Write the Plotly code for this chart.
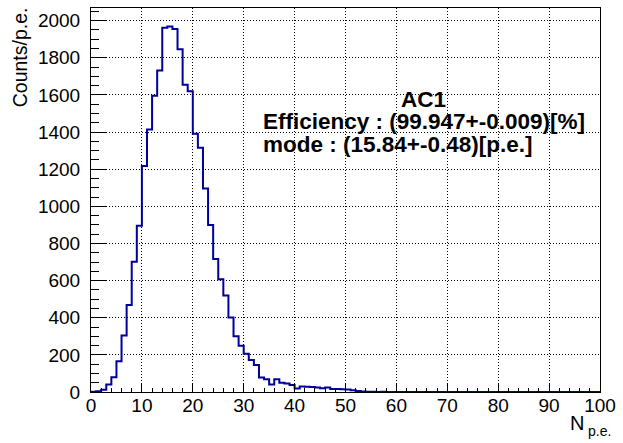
import plotly.graph_objects as go

# Histogram data: 100 bins of width 1 p.e. from 0 to 100
bin_edges = list(range(0, 101))
counts = [
    2, 4, 12, 41, 80, 166, 304, 469, 702, 895,
    1217, 1413, 1595, 1731, 1961, 1969, 1955, 1846, 1655, 1619,
    1391, 1316, 1096, 900, 716, 607, 520, 401, 300, 249,
    206, 173, 145, 78, 68, 41, 68, 50, 46, 38,
    19, 30, 28, 27, 24, 20, 24, 16, 16, 15,
    14, 10, 6, 3, 1, 1, 0, 1, 0, 0,
    0, 0, 0, 0, 0, 0, 0, 0, 0, 0,
    0, 0, 0, 0, 0, 0, 0, 0, 0, 0,
    0, 0, 0, 0, 0, 0, 0, 0, 0, 0,
    0, 0, 0, 0, 0, 0, 0, 0, 0, 0,
]
x_ticks = [0, 10, 20, 30, 40, 50, 60, 70, 80, 90, 100]
y_ticks = [0, 200, 400, 600, 800, 1000, 1200, 1400, 1600, 1800, 2000]

W, H = 623, 443
L, R, T, B = 91, 21, 7, 51
PW, PH = W - L - R, H - T - B

def px(xp):
    return (xp - L) / PW

def py(yp):
    return (H - B - yp) / PH

FONT = "Liberation Sans, Arial, Helvetica, sans-serif"

fig = go.Figure()
fig.add_trace(go.Scatter(
    x=bin_edges,
    y=counts + [counts[-1]],
    mode="lines",
    line=dict(shape="hv", color="#000099", width=2),
    hoverinfo="skip",
    showlegend=False,
))

axis_common = dict(
    showline=True, linecolor="black", linewidth=1, mirror=True,
    ticks="inside", tickcolor="black", tickwidth=1,
    showgrid=True, gridcolor="#000000", gridwidth=1, griddash="1px 2px",
    zeroline=False,
    tickfont=dict(family=FONT, size=19, color="black"),
)

fig.update_layout(
    width=W, height=H,
    margin=dict(l=L, r=R, t=T, b=B, pad=0),
    paper_bgcolor="white", plot_bgcolor="white",
    xaxis=dict(
        range=[0, 100], tickvals=x_ticks, ticklen=8,
        minor=dict(dtick=2, ticklen=4, ticks="inside", tickcolor="black", showgrid=False),
        ticklabelstandoff=-4,
        **axis_common,
    ),
    yaxis=dict(
        range=[0, 2068], tickvals=y_ticks, ticklen=15,
        minor=dict(dtick=50, ticklen=7.5, ticks="inside", tickcolor="black", showgrid=False),
        ticklabelstandoff=6,
        **axis_common,
    ),
    showlegend=False,
)

annotations = [
    dict(text="<b>AC1</b>", x=px(425), y=py(98.5), xanchor="center", yanchor="middle"),
    dict(text="<b>Efficiency : (99.947+-0.009)[%]</b>", x=px(262), y=py(120.5), xanchor="left", yanchor="middle"),
    dict(text="<b>mode : (15.84+-0.48)[p.e.]</b>", x=px(262), y=py(144), xanchor="left", yanchor="middle"),
]
for a in annotations:
    fig.add_annotation(xref="paper", yref="paper", showarrow=False,
                       font=dict(family=FONT, size=22.5, color="black"), **a)

# axis titles (ROOT style, right/top aligned)
fig.add_annotation(text="Counts/p.e.", xref="paper", yref="paper",
                   x=px(20), y=py(4), xanchor="center", yanchor="top",
                   textangle=-90, showarrow=False,
                   font=dict(family=FONT, size=19.5, color="black"))
fig.add_annotation(text="N", xref="paper", yref="paper",
                   x=px(588), y=py(423), xanchor="right", yanchor="middle",
                   showarrow=False, font=dict(family=FONT, size=20, color="black"))
fig.add_annotation(text="p.e.", xref="paper", yref="paper",
                   x=px(588), y=py(431.5), xanchor="left", yanchor="middle",
                   showarrow=False, font=dict(family=FONT, size=14, color="black"))

fig.write_html("out.html")
